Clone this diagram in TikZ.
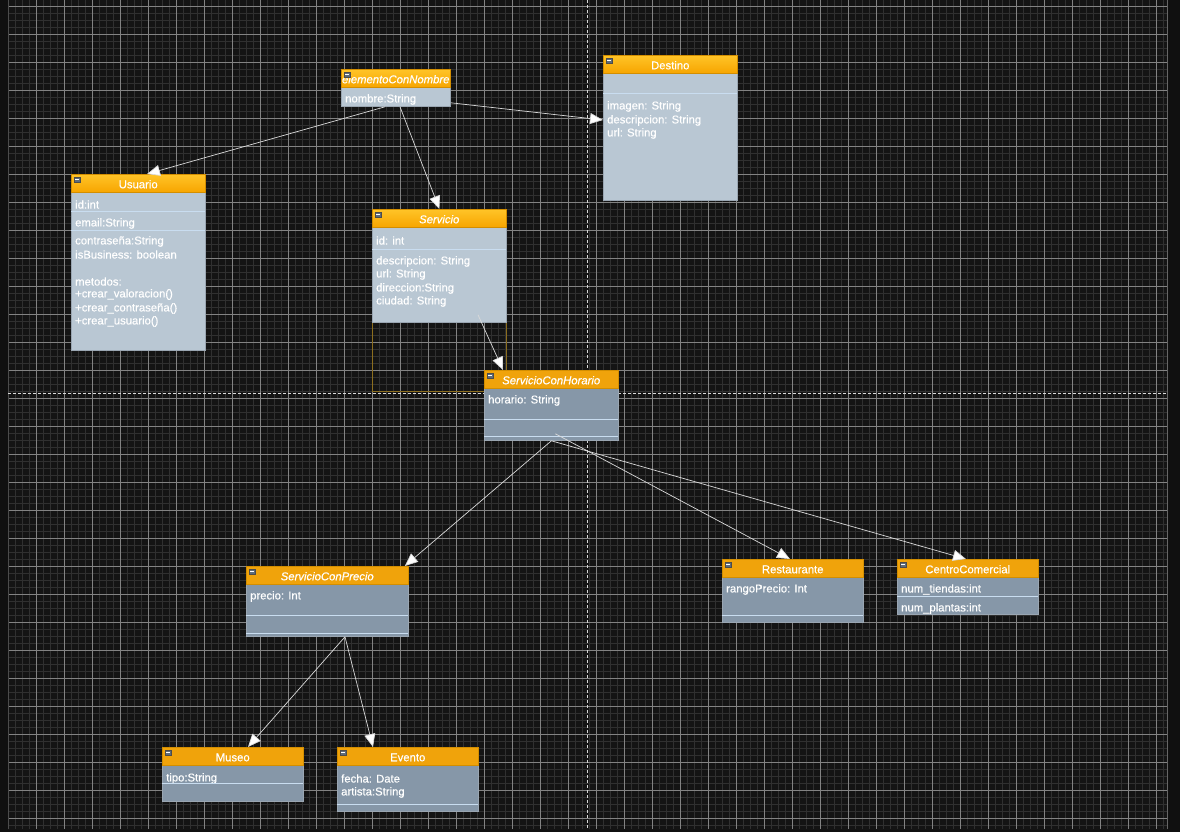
\documentclass[tikz,border=0pt]{standalone}
\usepackage{fontspec}
\setmainfont{Liberation Sans}
\newfontfamily\labelfont[FakeBold=0.45]{Liberation Sans}
\usetikzlibrary{arrows.meta}

\definecolor{canvas}{HTML}{141414}
\definecolor{edgestrip}{HTML}{101010}
\definecolor{gridminor}{HTML}{303030}
\definecolor{gridmajor}{HTML}{838383}
\definecolor{bodylight}{HTML}{B9C7D3}
\definecolor{bodydark}{HTML}{8697A8}
\definecolor{boxline}{HTML}{9AA6B2}
\definecolor{sepcol}{HTML}{C9DDF0}
\definecolor{hdrtop}{HTML}{FFC428}
\definecolor{hdrbot}{HTML}{F7A500}
\definecolor{hdrflat}{HTML}{F0A30B}
\definecolor{hdrline}{HTML}{D38E00}
\definecolor{iconcol}{HTML}{5E6C7A}
\definecolor{groupline}{HTML}{8C6E1E}
\definecolor{linkcol}{HTML}{DADADA}

\tikzset{
  classbody/.style={draw=boxline, line width=0.8pt, anchor=north west, inner sep=0pt},
  hdrtext/.style={anchor=north west, inner sep=0pt, text=white, text height=10pt, text depth=0pt,
    font=\labelfont\fontsize{11.3}{13}\selectfont},
  hdrgrad/.style={hdrtext, top color=hdrtop, bottom color=hdrbot, draw=hdrline, line width=0.5pt},
  hdrplain/.style={hdrtext, fill=hdrflat, draw=hdrline, line width=0.5pt},
  attr/.style={anchor=west, inner sep=0pt, yshift=-1.5pt, text=white,
    font=\labelfont\fontsize{11.3}{13}\selectfont},
  sepline/.style={draw=sepcol, line width=0.8pt},
  inherit/.style={draw=linkcol, line width=0.7pt, -{Triangle[length=13pt,width=11pt,fill=white]}},
}

% name, x1, y1, x2, y2, body colour, header style, title
\newcommand\umlclass[8]{%
  \node[classbody, fill=#6, minimum width={#4-#2}, minimum height={#5-#3}] (#1) at (#2,#3) {};
  \node[#7, minimum width={#4-#2}, minimum height=18] (#1-head) at (#2,#3) {#8};
  \filldraw[fill=iconcol, draw=black!70, line width=0.4pt] (#2+3,#3+3) rectangle ++(6,5);
  \draw[white!80, line width=0.6pt] (#2+4,#3+5.5) -- ++(4,0);
}

\begin{document}
\begin{tikzpicture}[x=1pt,y=-1pt]
\useasboundingbox (0,0) rectangle (1180,832);
\fill[canvas] (0,0) rectangle (1180,832);

% drawing grid
\begin{scope}
  \clip (8,0) rectangle (1167,829);
  \foreach \gx in {8,15,...,1167} \draw[gridminor, line width=0.7pt] (\gx,0) -- (\gx,829);
  \foreach \gy in {-1,6,...,829} \draw[gridminor, line width=0.7pt] (8,\gy) -- (1167,\gy);
  \foreach \gx in {8,36,...,1167} \draw[gridmajor, line width=0.7pt] (\gx,0) -- (\gx,829);
  \foreach \gy in {6,34,...,829} \draw[gridmajor, line width=0.7pt] (8,\gy) -- (1167,\gy);
\end{scope}
\fill[edgestrip] (0,0) rectangle (7.5,832);
\fill[edgestrip] (1167.5,0) rectangle (1180,832);
\fill[edgestrip] (0,829.5) rectangle (1180,832);
\draw[black!70!white, line width=0.8pt] (8,0) -- (8,829);
\draw[black!60!white, line width=0.8pt] (1167,0) -- (1167,829);

% page boundaries
\draw[white!85!black, line width=0.6pt, dash pattern=on 3pt off 2pt] (587,0) -- (587,829);
\draw[white!85!black, line width=0.6pt, dash pattern=on 3pt off 2pt] (8,393) -- (1167,393);

% selection frame around Servicio
\draw[groupline, line width=0.8pt] (372,209) rectangle (506,391);

% elementoConNombre
\umlclass{enc}{341}{69}{450}{106}{bodylight}{hdrgrad}{\itshape elementoConNombre}
\node[attr] (enc-a1) at (345,98) {nombre:String};

% Destino
\umlclass{dest}{603}{55}{737}{200}{bodylight}{hdrgrad}{Destino}
\draw[sepline] (603,93) -- (737,93);
\node[attr] (dest-a1) at (607,105) {imagen: String};
\node[attr] (dest-a2) at (607,119) {descripcion: String};
\node[attr] (dest-a3) at (607,132) {url: String};

% Usuario
\umlclass{usu}{71}{174}{205}{350}{bodylight}{hdrgrad}{Usuario}
\node[attr] (usu-a1) at (75,203) {id:int};
\draw[sepline] (71,211) -- (205,211);
\node[attr] (usu-a2) at (75,222) {email:String};
\draw[sepline] (71,230) -- (205,230);
\node[attr] (usu-a3) at (75,240) {contraseña:String};
\node[attr] (usu-a4) at (75,253) {isBusiness: boolean};
\node[attr] (usu-m0) at (75,280) {metodos:};
\node[attr] (usu-m1) at (75,293) {+crear\_valoracion()};
\node[attr] (usu-m2) at (75,307) {+crear\_contraseña()};
\node[attr] (usu-m3) at (75,320) {+crear\_usuario()};

% Servicio
\umlclass{serv}{372}{209}{506}{322}{bodylight}{hdrgrad}{\itshape Servicio}
\node[attr] (serv-a1) at (376,239) {id: int};
\draw[sepline] (372,249) -- (506,249);
\node[attr] (serv-a2) at (376,260) {descripcion: String};
\node[attr] (serv-a3) at (376,273) {url: String};
\node[attr] (serv-a4) at (376,287) {direccion:String};
\node[attr] (serv-a5) at (376,300) {ciudad: String};

% ServicioConHorario
\umlclass{hor}{484}{370}{618}{440}{bodydark}{hdrplain}{\itshape ServicioConHorario}
\node[attr] (hor-a1) at (488,399) {horario: String};
\draw[sepline] (484,419) -- (618,419);
\draw[sepline] (484,436) -- (618,436);

% ServicioConPrecio
\umlclass{prec}{246}{566}{408}{636}{bodydark}{hdrplain}{\itshape ServicioConPrecio}
\node[attr] (prec-a1) at (250,595) {precio: Int};
\draw[sepline] (246,615) -- (408,615);
\draw[sepline] (246,633) -- (408,633);

% Restaurante
\umlclass{rest}{722}{559}{863}{622}{bodydark}{hdrplain}{Restaurante}
\node[attr] (rest-a1) at (726,588) {rangoPrecio: Int};
\draw[sepline] (722,615) -- (863,615);

% CentroComercial
\umlclass{cc}{897}{559}{1038}{614}{bodydark}{hdrplain}{CentroComercial}
\node[attr] (cc-a1) at (901,588) {num\_tiendas:int};
\draw[sepline] (897,596) -- (1038,596);
\node[attr] (cc-a2) at (901,607) {num\_plantas:int};

% Museo
\umlclass{mus}{162}{747}{303}{801}{bodydark}{hdrplain}{Museo}
\node[attr] (mus-a1) at (166,777) {tipo:String};
\draw[sepline] (162,783) -- (303,783);

% Evento
\umlclass{evt}{337}{747}{478}{811}{bodydark}{hdrplain}{Evento}
\node[attr] (evt-a1) at (341,777) {fecha: Date};
\node[attr] (evt-a2) at (341,791) {artista:String};
\draw[sepline] (337,804) -- (478,804);

% generalisation links
\draw[inherit] ([xshift=44pt]enc.south west) -- ([xshift=76pt]usu.north west);
\draw[inherit] ([xshift=59pt]enc.south west) -- (serv.north);
\draw[inherit] ([yshift=4pt]enc.south east) -- ([yshift=-65pt]dest.north west);
\draw[inherit] ([xshift=106pt,yshift=8pt]serv.south west) -- ([xshift=19pt]hor.north west);
\draw[inherit] (hor.south) -- ([xshift=-4pt]prec.north east);
\draw[inherit] ([xshift=4pt,yshift=7pt]hor.south) -- ([xshift=68pt]rest.north west);
\draw[inherit] (hor.south) -- ([xshift=69pt]cc.north west);
\draw[inherit] ([xshift=99pt]prec.south west) -- ([xshift=86pt]mus.north west);
\draw[inherit] ([xshift=99pt]prec.south west) -- ([xshift=36pt]evt.north west);
\end{tikzpicture}
\end{document}
